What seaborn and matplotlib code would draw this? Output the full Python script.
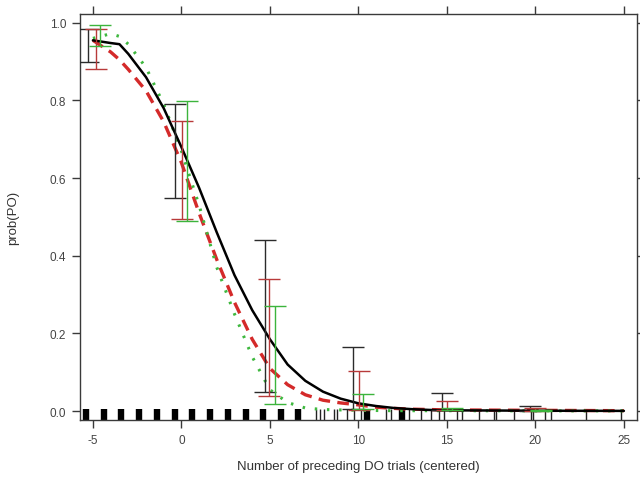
import numpy as np
import pandas as pd
import matplotlib
matplotlib.use("Agg")
import matplotlib.pyplot as plt
import seaborn as sns

# ---- data ----
curve_x = [-5, -4, -3.5, -3, -2, -1, 0, 1, 2, 3, 4, 5, 6, 7, 8, 9, 10, 11, 12, 13, 14, 15, 20, 25]
black_curve = [0.955, 0.948, 0.945, 0.92, 0.86, 0.78, 0.68, 0.575, 0.46, 0.35, 0.26, 0.185,
               0.12, 0.078, 0.05, 0.032, 0.02, 0.013, 0.008, 0.005, 0.003, 0.002, 0.001, 0.0005]
red_curve = [0.955, 0.925, 0.905, 0.88, 0.825, 0.745, 0.64, 0.51, 0.39, 0.28, 0.185, 0.11,
             0.068, 0.042, 0.028, 0.021, 0.016, 0.01, 0.007, 0.005, 0.004, 0.003, 0.002, 0.001]
green_curve = [0.96, 0.972, 0.965, 0.945, 0.885, 0.79, 0.67, 0.53, 0.37, 0.25, 0.14, 0.055,
               0.022, 0.008, 0.004, 0.003, 0.002, 0.0015, 0.001, 0.001, 0.001, 0.001, 0.0005, 0.0005]

black_x = [-5.3, -0.35, 4.7, 9.7, 14.75, 19.7]
black_lo = [0.90, 0.548, 0.05, 0.005, 0.003, 0.001]
black_hi = [0.985, 0.79, 0.44, 0.165, 0.046, 0.013]
red_x = [-4.8, 0.05, 4.95, 10.05, 15.0, 20.0]
red_lo = [0.882, 0.495, 0.04, 0.004, 0.002, 0.001]
red_hi = [0.985, 0.748, 0.34, 0.103, 0.026, 0.008]
green_x = [-4.6, 0.3, 5.27, 10.25, 15.3, 20.3]
green_lo = [0.94, 0.49, 0.018, 0.005, 0.003, 0.001]
green_hi = [0.995, 0.798, 0.27, 0.044, 0.008, 0.004]

rug_dense = [-5.37, -4.4, -3.39, -2.38, -1.37, -0.38, 0.62, 1.64, 2.66, 3.67, 4.63, 5.65, 6.6,
             10.51, 12.49]
rug_sparse = [7.63, 7.85, 8.08, 8.64, 8.81, 9.38, 9.77, 10.17, 11.58, 11.86, 12.88, 13.56, 14.12,
              14.58, 14.86, 15.59, 15.88, 16.84, 17.68, 17.8, 18.81, 19.77, 19.89, 20.56, 20.9,
              22.88, 24.86]

x_ticks = [-5, 0, 5, 10, 15, 20, 25]
y_ticks = [0.0, 0.2, 0.4, 0.6, 0.8, 1.0]

# ---- plot ----
sns.set_theme(style="white")
plt.rcParams['font.family'] = ['Liberation Sans', 'DejaVu Sans']

fig = plt.figure(figsize=(6.4, 4.81), dpi=100)
ax = fig.add_axes([0.125, 0.1247, 0.87, 0.8443])

df = pd.DataFrame({"x": curve_x, "black": black_curve, "red": red_curve, "green": green_curve})

sns.lineplot(data=df, x="x", y="black", ax=ax, color="black", linewidth=1.8, zorder=4)
sns.lineplot(data=df, x="x", y="red", ax=ax, color="#d42a2a", linewidth=2.4, zorder=3)
ax.lines[-1].set_dashes((3.5, 2.2))
sns.lineplot(data=df, x="x", y="green", ax=ax, color="#3fb83f", linewidth=2.2, zorder=3)
ax.lines[-1].set_dashes((0.8, 3.2))

for xs, lo, hi, c in [(black_x, black_lo, black_hi, "#2b2b2b"),
                      (red_x, red_lo, red_hi, "#b83a3a"),
                      (green_x, green_lo, green_hi, "#3cb43c")]:
    lo = np.array(lo); hi = np.array(hi)
    mid = (lo + hi) / 2
    ax.errorbar(xs, mid, yerr=(hi - lo) / 2, fmt="none", ecolor=c, elinewidth=1.0,
                capsize=8, capthick=1.0, zorder=5)

sns.rugplot(x=rug_dense, ax=ax, height=0.027, color="black", linewidth=4.6, zorder=2)
sns.rugplot(x=rug_sparse, ax=ax, height=0.027, color="#222222", linewidth=1.0, zorder=2)

ax.set_xlim(-5.73, 25.73)
ax.set_ylim(-0.023, 1.023)
ax.set_xticks(x_ticks)
ax.set_yticks(y_ticks)
ax.set_xticklabels([str(t) for t in x_ticks])
ax.set_yticklabels([f"{t:.1f}" for t in y_ticks])

for s in ax.spines.values():
    s.set_color("#3a3a3a")
    s.set_linewidth(1.0)
    s.set_visible(True)

ax.tick_params(axis="both", direction="out", length=6, width=1.0, color="#3a3a3a",
               labelsize=8.5, labelcolor="#444444", pad=4,
               top=True, right=True, bottom=True, left=True,
               labeltop=False, labelright=False)

ax.set_xlabel("Number of preceding DO trials (centered)", fontsize=9.5, color="#333333", labelpad=10)
ax.set_ylabel("prob(PO)", fontsize=9.5, color="#333333", labelpad=22)

fig.savefig("out.png", dpi=100)
